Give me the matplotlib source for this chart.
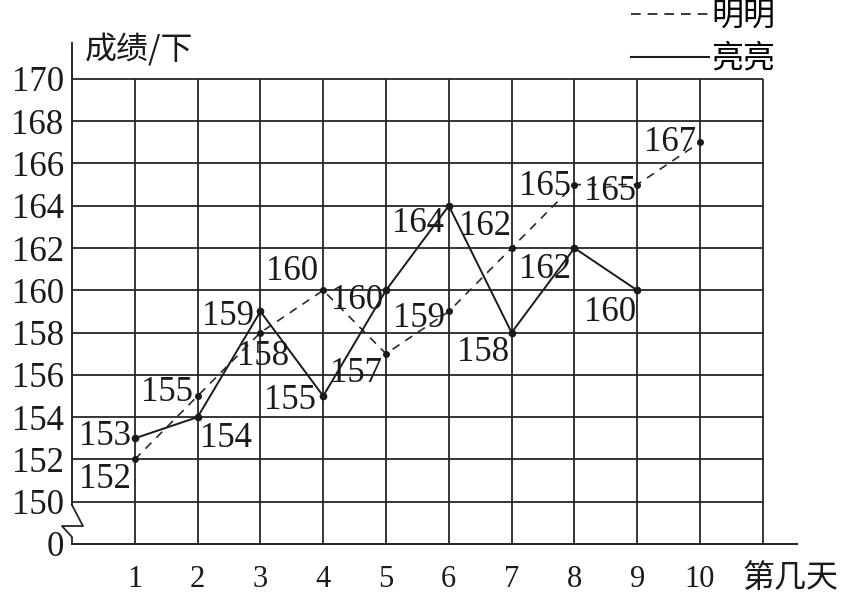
import matplotlib
matplotlib.use("Agg")
import matplotlib.pyplot as plt
from matplotlib.lines import Line2D

# ---------------- data ----------------
days = [1, 2, 3, 4, 5, 6, 7, 8, 9, 10]
mingming = [152, 155, 158, 160, 157, 159, 162, 165, 165, 167]   # dashed
liangliang = [153, 154, 159, 155, 160, 164, 158, 162, 160]       # solid
y_tick_values = [150, 152, 154, 156, 158, 160, 162, 164, 166, 168, 170]
x_tick_labels = ["1", "2", "3", "4", "5", "6", "7", "8", "9", "10"]
y_axis_label = "成绩/下"
x_axis_label = "第几天"
series_names = ["明明", "亮亮"]

# label offsets (pixels) – style only
off_m = [(-30, -20), (-31, 4), (3, -24), (-31, 19), (-30, -20), (-30, -7),
         (-27, 22), (-29, -2), (-27, -7), (-30, 0)]
off_l = [(-30, 2), (28, -21), (-32, -5), (-33, -4), (-29, -10), (-31, -18),
         (-29, -20), (-29, -21), (-27, -22)]

plt.rcParams['lines.scale_dashes'] = False
SERIF = ["Liberation Serif", "DejaVu Serif"]
CJK = ["Noto Sans CJK SC", "DejaVu Sans"]

W, H = 857, 598
fig = plt.figure(figsize=(W / 100, H / 100), dpi=100)

# axis break: value v -> v - 148 (150 sits one grid step above 0)
BASE = 148
def tr(v):
    return v - BASE

px_x = 62.8   # pixels per day
px_y = 21.14  # pixels per unit
x0_px, y0_px = 72, 544
xmax, ymax = 11.55, 23.7
ax = fig.add_axes([x0_px / W, (H - y0_px) / H, xmax * px_x / W, ymax * px_y / H])
ax.set_xlim(0, xmax)
ax.set_ylim(0, ymax)
ax.patch.set_alpha(0)

gc = "#262626"
# grid
ax.hlines([tr(v) for v in y_tick_values], 0, 11, color=gc, lw=1.3, zorder=1)
ax.vlines(range(1, 12), 0, tr(170), color=gc, lw=1.3, zorder=1)

# spines
for s in ["top", "right"]:
    ax.spines[s].set_visible(False)
ax.spines["bottom"].set_color(gc)
ax.spines["bottom"].set_linewidth(1.4)
ax.spines["left"].set_color(gc)
ax.spines["left"].set_linewidth(1.4)
ax.spines["left"].set_bounds(1.84, ymax)
# break symbol
ax.plot([0, 0.175, -0.16, 0, 0], [1.84, 0.85, 0.85, 0.33, 0], color=gc, lw=1.3,
        clip_on=False, zorder=2)

# ticks
ax.set_xticks(days)
ax.set_xticklabels(x_tick_labels, fontfamily=SERIF, fontsize=22)
ax.set_yticks([0] + [tr(v) for v in y_tick_values])
ax.set_yticklabels(["0"] + [str(v) for v in y_tick_values], fontfamily=SERIF, fontsize=25)
ax.tick_params(axis="x", length=0, pad=15, colors="#1a1a1a")
ax.tick_params(axis="y", length=0, pad=6, colors="#1a1a1a")

# series
lm, = ax.plot(days, [tr(v) for v in mingming], color="#2a2a2a", lw=1.2,
              linestyle=(0, (6, 5)), marker="o", ms=4, mfc="#1a1a1a", mec="#1a1a1a",
              zorder=3, label=series_names[0])
ll, = ax.plot(days[:len(liangliang)], [tr(v) for v in liangliang], color="#1a1a1a",
              lw=1.4, marker="o", ms=4.5, mfc="#1a1a1a", mec="#1a1a1a", zorder=3,
              label=series_names[1])

for d, v, o in zip(days, mingming, off_m):
    ax.annotate(str(v), (d, tr(v)), xytext=o, textcoords="offset pixels",
                ha="center", va="center", fontfamily=SERIF, fontsize=25,
                color="#1a1a1a", zorder=4)
for d, v, o in zip(days, liangliang, off_l):
    ax.annotate(str(v), (d, tr(v)), xytext=o, textcoords="offset pixels",
                ha="center", va="center", fontfamily=SERIF, fontsize=25,
                color="#1a1a1a", zorder=4)

# axis titles
fig.text(85 / W, 1 - 50 / H, y_axis_label, fontfamily=CJK, fontsize=23,
         va="center", ha="left", color="#1a1a1a")
fig.text(742 / W, 1 - 578 / H, x_axis_label, fontfamily=CJK, fontsize=23,
         va="center", ha="left", color="#1a1a1a")

# legend
h1 = Line2D([], [], color="#2a2a2a", lw=1.3, linestyle=(0, (7, 5)))
h2 = Line2D([], [], color="#1a1a1a", lw=1.5)
fig.legend([h1, h2], series_names, loc="upper right",
           bbox_to_anchor=(775 / W, 1.0), frameon=False,
           prop={"family": CJK, "size": 23}, handlelength=2.45,
           handletextpad=0.05, labelspacing=0.34, borderpad=0, borderaxespad=0)

fig.savefig("out.png", dpi=100)
